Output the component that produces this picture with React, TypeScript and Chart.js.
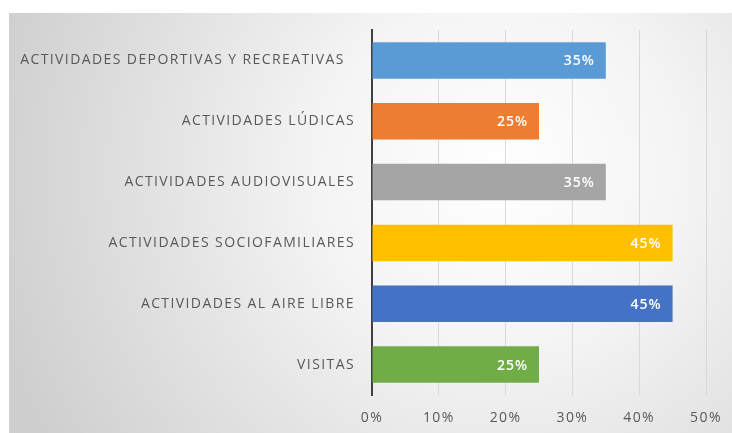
import React, { useEffect, useRef } from "react";
import { Chart, registerables } from "chart.js";

Chart.register(...registerables);

const categories = [
  "ACTIVIDADES DEPORTIVAS Y RECREATIVAS  ",
  "ACTIVIDADES LÚDICAS",
  "ACTIVIDADES AUDIOVISUALES",
  "ACTIVIDADES SOCIOFAMILIARES",
  "ACTIVIDADES AL AIRE LIBRE",
  "VISITAS",
];
const values = [35, 25, 35, 45, 45, 25];
const barColors = ["#5B9BD5", "#ED7D31", "#A5A5A5", "#FFC000", "#4472C4", "#70AD47"];
const xMax = 50;
const xStep = 10;

const FONT = "'Open Sans', 'DejaVu Sans', sans-serif";

const bgPlugin = {
  id: "bgPlugin",
  beforeDraw(chart: any) {
    const { ctx, width, height } = chart;
    ctx.save();
    ctx.fillStyle = "#ffffff";
    ctx.fillRect(0, 0, width, height);
    const g = ctx.createRadialGradient(500, 170, 0, 500, 170, 520);
    g.addColorStop(0, "#ffffff");
    g.addColorStop(0.35, "#f4f4f4");
    g.addColorStop(1, "#cfcfcf");
    ctx.fillStyle = g;
    ctx.fillRect(9, 13, width - 9, height - 13);
    ctx.restore();
    (ctx as any).letterSpacing = "1.4px";
  },
  beforeDatasetsDraw(chart: any) {
    (chart.ctx as any).letterSpacing = "0px";
  },
  afterDraw(chart: any) {
    (chart.ctx as any).letterSpacing = "0px";
  },
};

const valueLabelPlugin = {
  id: "valueLabelPlugin",
  afterDatasetsDraw(chart: any) {
    const { ctx } = chart;
    const meta = chart.getDatasetMeta(0);
    ctx.save();
    (ctx as any).letterSpacing = "1px";
    ctx.font = `600 14px ${FONT}`;
    ctx.fillStyle = "#ffffff";
    ctx.textAlign = "right";
    ctx.textBaseline = "middle";
    meta.data.forEach((bar: any, i: number) => {
      ctx.fillText(`${values[i]}%`, bar.x - 11, bar.y + 1);
    });
    ctx.restore();
    (ctx as any).letterSpacing = "0px";
  },
};

export default function App() {
  const ref = useRef<HTMLCanvasElement>(null);
  useEffect(() => {
    if (!ref.current) return;
    const chart = new Chart(ref.current, {
      type: "bar",
      data: {
        labels: categories,
        datasets: [
          {
            data: values,
            backgroundColor: barColors,
            borderWidth: 0,
            barPercentage: 0.6,
            categoryPercentage: 1,
          },
        ],
      },
      options: {
        indexAxis: "y",
        animation: false,
        responsive: false,
        layout: { padding: { top: 30, right: 26, bottom: 0, left: 0 } },
        plugins: { legend: { display: false }, tooltip: { enabled: false } },
        scales: {
          x: {
            min: 0,
            max: xMax,
            ticks: {
              stepSize: xStep,
              padding: 15,
              color: "#595959",
              font: { family: FONT, size: 14 },
              callback: (v: any) => `${v}%`,
            },
            grid: { color: "#d9d9d9", drawTicks: false, lineWidth: 1 },
            border: { display: false },
            afterFit: (s: any) => {
              s.height = 38;
              s.paddingLeft = 0;
              s.paddingRight = 0;
            },
          },
          y: {
            ticks: {
              padding: 17,
              color: "#595959",
              font: { family: FONT, size: 14 },
            },
            grid: { display: false, drawTicks: false },
            border: { display: true, color: "#404040", width: 2 },
            afterFit: (s: any) => {
              s.width = 372;
            },
          },
        },
      },
      plugins: [bgPlugin, valueLabelPlugin],
    });
    return () => chart.destroy();
  }, []);
  return (
    <div style={{ position: "fixed", left: 0, top: 0, width: 732, height: 433 }}>
      <canvas ref={ref} width={732} height={433} style={{ display: "block" }} />
    </div>
  );
}
